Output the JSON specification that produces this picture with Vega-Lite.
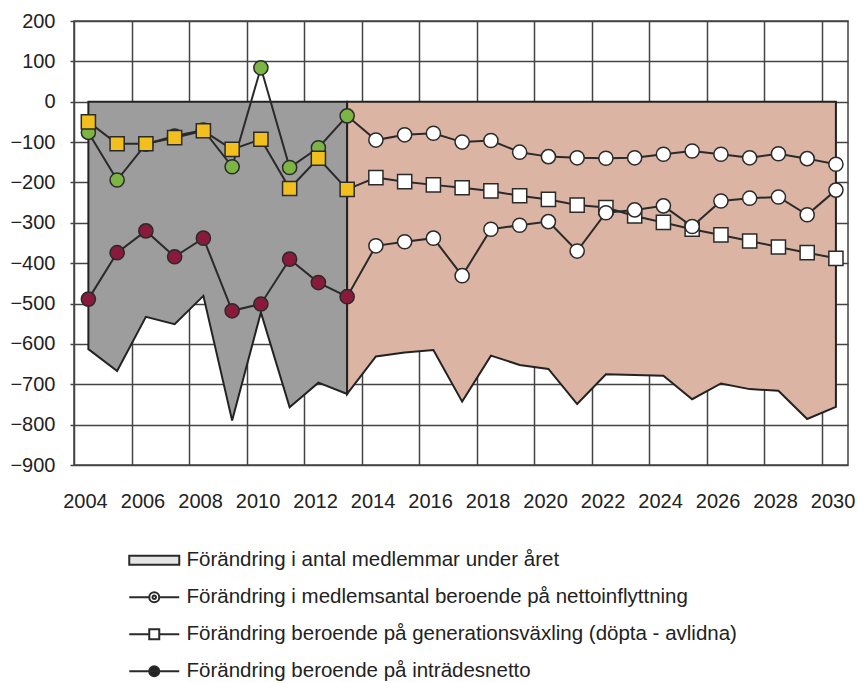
{
  "$schema": "https://vega.github.io/schema/vega-lite/v6.json",
  "width": 774,
  "height": 444,
  "autosize": {"type": "none"},
  "padding": {"left": 74, "top": 21, "right": 10, "bottom": 218},
  "background": "white",
  "config": {
    "view": {"stroke": "#444", "strokeWidth": 1.5},
    "font": "Liberation Sans"
  },
  "datasets": {
    "d": [
      {"year": 2004, "tot": -613, "netto": -76, "gen": -50, "intr": -489},
      {"year": 2005, "tot": -667, "netto": -194, "gen": -104, "intr": -374},
      {"year": 2006, "tot": -533, "netto": -105, "gen": -104, "intr": -320},
      {"year": 2007, "tot": -551, "netto": -85, "gen": -89, "intr": -384},
      {"year": 2008, "tot": -481, "netto": -70, "gen": -72, "intr": -338},
      {"year": 2009, "tot": -790, "netto": -161, "gen": -118, "intr": -518},
      {"year": 2010, "tot": -522, "netto": 84, "gen": -93, "intr": -501},
      {"year": 2011, "tot": -757, "netto": -163, "gen": -215, "intr": -390},
      {"year": 2012, "tot": -696, "netto": -114, "gen": -140, "intr": -448},
      {"year": 2013, "tot": -724, "netto": -35, "gen": -217, "intr": -483},
      {"year": 2014, "tot": -631, "netto": -95, "gen": -188, "intr": -357},
      {"year": 2015, "tot": -621, "netto": -82, "gen": -198, "intr": -347},
      {"year": 2016, "tot": -615, "netto": -78, "gen": -206, "intr": -338},
      {"year": 2017, "tot": -743, "netto": -100, "gen": -213, "intr": -431},
      {"year": 2018, "tot": -629, "netto": -96, "gen": -221, "intr": -316},
      {"year": 2019, "tot": -652, "netto": -125, "gen": -233, "intr": -306},
      {"year": 2020, "tot": -662, "netto": -136, "gen": -242, "intr": -297},
      {"year": 2021, "tot": -749, "netto": -139, "gen": -256, "intr": -370},
      {"year": 2022, "tot": -675, "netto": -140, "gen": -262, "intr": -275},
      {"year": 2023, "tot": -677, "netto": -139, "gen": -283, "intr": -268},
      {"year": 2024, "tot": -679, "netto": -130, "gen": -299, "intr": -258},
      {"year": 2025, "tot": -737, "netto": -122, "gen": -316, "intr": -309},
      {"year": 2026, "tot": -698, "netto": -130, "gen": -330, "intr": -246},
      {"year": 2027, "tot": -712, "netto": -139, "gen": -345, "intr": -239},
      {"year": 2028, "tot": -716, "netto": -129, "gen": -360, "intr": -236},
      {"year": 2029, "tot": -786, "netto": -141, "gen": -374, "intr": -280},
      {"year": 2030, "tot": -756, "netto": -155, "gen": -388, "intr": -219}
    ]
  },
  "data": {"name": "d"},
  "encoding": {
    "x": {
      "field": "year",
      "type": "quantitative",
      "scale": {"domain": [2003.5, 2030.42], "nice": false, "zero": false},
      "axis": {
        "title": null,
        "values": [2003.5, 2005.5, 2007.5, 2009.5, 2011.5, 2013.5, 2015.5, 2017.5, 2019.5, 2021.5, 2023.5, 2025.5, 2027.5, 2029.5],
        "labelExpr": "format(datum.value + 0.5, 'd')",
        "labelOffset": 11,
        "ticks": false,
        "domain": false,
        "grid": true,
        "gridColor": "#444",
        "gridWidth": 1.5,
        "gridOpacity": 1,
        "labelFont": "Liberation Sans",
        "labelFontSize": 20,
        "labelColor": "#222",
        "labelPadding": 26,
        "labelFlush": false,
        "labelOverlap": false
      }
    },
    "y": {
      "type": "quantitative",
      "scale": {"domain": [-900, 200], "nice": false, "zero": false},
      "axis": {
        "title": null,
        "values": [-900, -800, -700, -600, -500, -400, -300, -200, -100, 0, 100, 200],
        "grid": true,
        "gridColor": "#444",
        "gridWidth": 1.5,
        "gridOpacity": 1,
        "domain": false,
        "ticks": true,
        "tickSize": 4,
        "tickColor": "#444",
        "tickWidth": 1.5,
        "labelFont": "Liberation Sans",
        "labelFontSize": 20,
        "labelColor": "#222",
        "labelPadding": 15,
        "labelFlush": false,
        "labelOverlap": false
      }
    }
  },
  "layer": [
    {
      "transform": [{"filter": "datum.year <= 2013"}],
      "mark": {"type": "area", "fill": "#9d9d9d", "stroke": "#222", "strokeWidth": 2, "opacity": 1},
      "encoding": {
        "y": {"field": "tot", "type": "quantitative"},
        "y2": {"datum": 0}
      }
    },
    {
      "transform": [{"filter": "datum.year >= 2013"}],
      "mark": {"type": "area", "fill": "#dbb4a4", "stroke": "#222", "strokeWidth": 2, "opacity": 1},
      "encoding": {
        "y": {"field": "tot", "type": "quantitative"},
        "y2": {"datum": 0}
      }
    },
    {
      "transform": [{"fold": ["netto", "gen", "intr"], "as": ["serie", "v"]}],
      "mark": {"type": "line", "strokeWidth": 2},
      "encoding": {
        "y": {"field": "v", "type": "quantitative"},
        "stroke": {
          "field": "serie",
          "type": "nominal",
          "scale": {"domain": ["area", "netto", "gen", "intr"], "range": ["#2a2a2a", "#2a2a2a", "#2a2a2a", "#2a2a2a"]},
          "legend": {
            "title": null,
            "orient": "none",
            "legendX": 70,
            "legendY": 529,
            "direction": "vertical",
            "symbolSize": 100,
            "labelOffset": 22,
            "rowPadding": 16,
            "labelFont": "Liberation Sans",
            "labelFontSize": 20.5,
            "labelColor": "#222",
            "labelLimit": 800,
            "labelExpr": "datum.value === 'area' ? 'Förändring i antal medlemmar under året' : datum.value === 'netto' ? 'Förändring i medlemsantal beroende på nettoinflyttning' : datum.value === 'gen' ? 'Förändring beroende på generationsväxling (döpta - avlidna)' : 'Förändring beroende på inträdesnetto'",
            "encode": {
              "symbols": {
                "update": {
                  "shape": {"signal": "datum.value === 'area' ? 'M-5,-0.9H5V0.9H-5Z' : datum.value === 'netto' ? 'M-5,0H-1M1,0H5M1,0A1,1,0,1,1,-1,0A1,1,0,1,1,1,0M0.35,0A0.35,0.35,0,1,1,-0.35,0A0.35,0.35,0,1,1,0.35,0' : datum.value === 'gen' ? 'M-5,0H-1M1,0H5M-1,-1H1V1H-1Z' : 'M-5,0H5M1,0A1,1,0,1,1,-1,0A1,1,0,1,1,1,0Z'"},
                  "fill": {"signal": "datum.value === 'intr' ? '#222' : datum.value === 'area' ? '#e4e4e4' : '#ffffff'"},
                  "stroke": {"value": "#222"},
                  "strokeWidth": {"value": 2},
                  "opacity": {"value": 1},
                  "strokeDash": {"value": []}
                }
              }
            }
          }
        }
      }
    },
    {
      "transform": [{"fold": ["netto", "gen", "intr"], "as": ["serie", "v"]}],
      "mark": {"type": "point", "filled": true, "size": 200, "stroke": "#2a2a2a", "strokeWidth": 1.5, "opacity": 1},
      "encoding": {
        "y": {"field": "v", "type": "quantitative"},
        "shape": {
          "field": "serie",
          "type": "nominal",
          "scale": {"domain": ["netto", "gen", "intr"], "range": ["circle", "square", "circle"]},
          "legend": null
        },
        "fill": {
          "condition": {"test": "datum.year > 2013", "value": "#ffffff"},
          "field": "serie",
          "type": "nominal",
          "scale": {"domain": ["netto", "gen", "intr"], "range": ["#7db544", "#f2c01e", "#8a1a3c"]},
          "legend": null
        }
      }
    }
  ]
}
